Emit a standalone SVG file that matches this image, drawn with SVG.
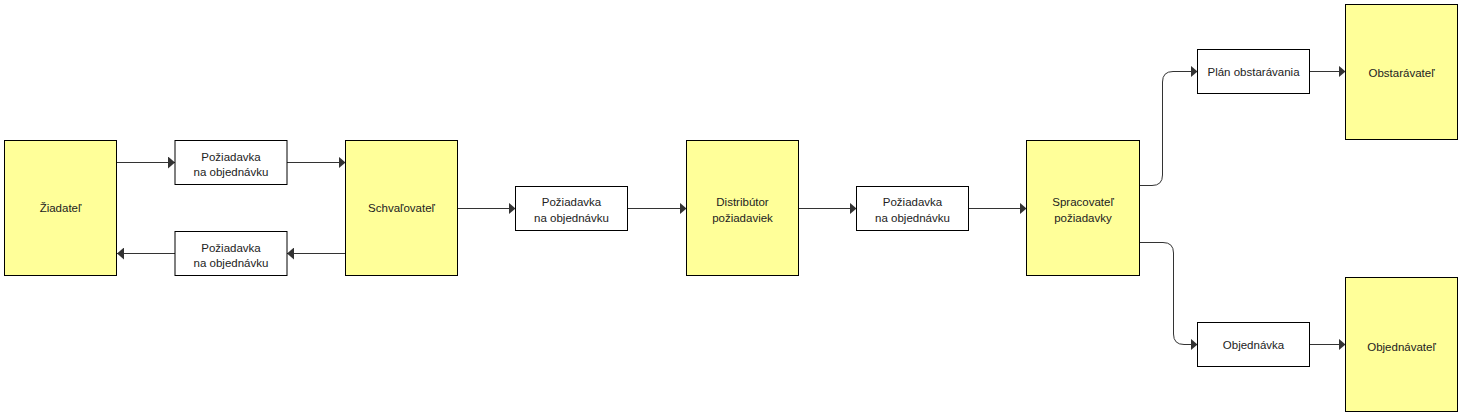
<svg xmlns="http://www.w3.org/2000/svg" width="1463" height="418" viewBox="0 0 1463 418">
<style>
.actor{fill:#FFFF99;stroke:#000;stroke-width:1}
.msg{fill:#fff;stroke:#000;stroke-width:1}
.lbl{font-family:"Liberation Sans",Arial,sans-serif;font-size:11.5px;fill:#222;text-anchor:middle}
.conn{fill:none;stroke:#333;stroke-width:1}
</style>
<defs>
<marker id="arr" markerWidth="7" markerHeight="12" refX="7" refY="6" orient="auto" markerUnits="userSpaceOnUse">
<path d="M0,0 L7,6 L0,12 z" fill="#333"/>
</marker>
</defs>
<rect width="1463" height="418" fill="#fff"/>
<g id="connectors">
<path class="conn" d="M117,162.5 H175" marker-end="url(#arr)"/>
<path class="conn" d="M287,162.5 H345.5" marker-end="url(#arr)"/>
<path class="conn" d="M345.5,253.5 H287" marker-end="url(#arr)"/>
<path class="conn" d="M175,253.5 H117" marker-end="url(#arr)"/>
<path class="conn" d="M457.5,208.5 H515.5" marker-end="url(#arr)"/>
<path class="conn" d="M627.5,208.5 H686.5" marker-end="url(#arr)"/>
<path class="conn" d="M798.5,208.5 H856.5" marker-end="url(#arr)"/>
<path class="conn" d="M968.5,208.5 H1026.5" marker-end="url(#arr)"/>
<path class="conn" d="M1139.5,185.5 H1152 Q1162.5,185.5 1162.5,175 V82 Q1162.5,71.5 1173,71.5 H1197.5" marker-end="url(#arr)"/>
<path class="conn" d="M1309.5,71.5 H1345.5" marker-end="url(#arr)"/>
<path class="conn" d="M1139.5,242.5 H1163 Q1173.5,242.5 1173.5,253 V334 Q1173.5,344.5 1184,344.5 H1197.5" marker-end="url(#arr)"/>
<path class="conn" d="M1309.5,344.5 H1345.5" marker-end="url(#arr)"/>
</g>
<g id="ziadatel"><rect class="actor" x="4.5" y="140.5" width="112" height="135"/><text class="lbl" x="60.5" y="212">Žiadateľ</text></g>
<g id="msg1"><rect class="msg" x="175" y="140.5" width="112" height="44"/><text class="lbl" x="231" y="160.5">Požiadavka</text><text class="lbl" x="231" y="176">na objednávku</text></g>
<g id="msg2"><rect class="msg" x="175" y="231.5" width="112" height="44"/><text class="lbl" x="231" y="251.5">Požiadavka</text><text class="lbl" x="231" y="267">na objednávku</text></g>
<g id="schvalovatel"><rect class="actor" x="345.5" y="140.5" width="112" height="135"/><text class="lbl" x="401.5" y="212">Schvaľovateľ</text></g>
<g id="msg3"><rect class="msg" x="515.5" y="186.5" width="112" height="44"/><text class="lbl" x="571.5" y="206">Požiadavka</text><text class="lbl" x="571.5" y="221.5">na objednávku</text></g>
<g id="distributor"><rect class="actor" x="686.5" y="140.5" width="112" height="135"/><text class="lbl" x="742.5" y="206">Distribútor</text><text class="lbl" x="742.5" y="221.5">požiadaviek</text></g>
<g id="msg4"><rect class="msg" x="856.5" y="186.5" width="112" height="44"/><text class="lbl" x="912.5" y="206">Požiadavka</text><text class="lbl" x="912.5" y="221.5">na objednávku</text></g>
<g id="spracovatel"><rect class="actor" x="1026.5" y="140.5" width="113" height="135"/><text class="lbl" x="1083" y="206">Spracovateľ</text><text class="lbl" x="1083" y="221.5">požiadavky</text></g>
<g id="plan"><rect class="msg" x="1197.5" y="49.5" width="112" height="44"/><text class="lbl" x="1253.5" y="75.5">Plán obstarávania</text></g>
<g id="obstaravatel"><rect class="actor" x="1345.5" y="4.5" width="112" height="135"/><text class="lbl" x="1401.5" y="77">Obstarávateľ</text></g>
<g id="objednavka"><rect class="msg" x="1197.5" y="322.5" width="112" height="44"/><text class="lbl" x="1253.5" y="348.5">Objednávka</text></g>
<g id="objednavatel"><rect class="actor" x="1345.5" y="277.5" width="112" height="134"/><text class="lbl" x="1401.5" y="351">Objednávateľ</text></g>
</svg>
